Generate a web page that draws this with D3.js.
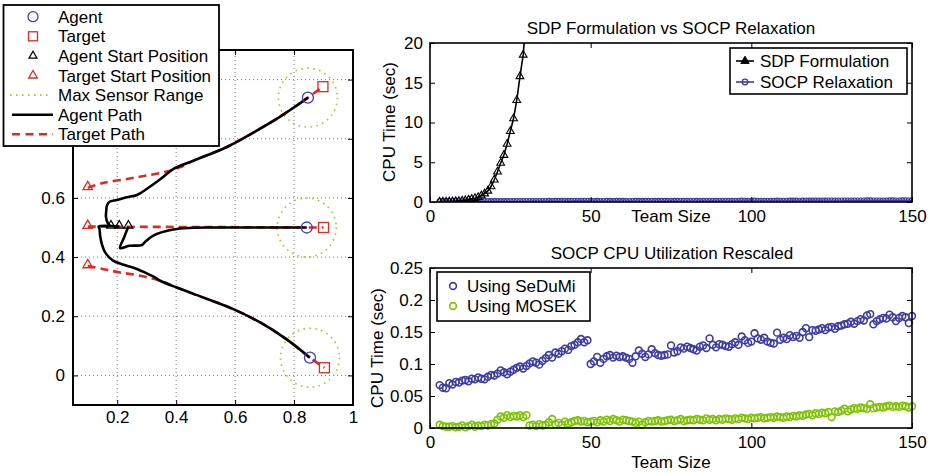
<!DOCTYPE html>
<html><head><meta charset="utf-8">
<script src="https://cdn.jsdelivr.net/npm/d3@7"></script>
<style>
body{margin:0;background:#fff;}
svg text{font-family:"Liberation Sans",Arial,Helvetica,sans-serif;fill:#000;}
</style></head><body>
<svg id="fig" width="931" height="473"></svg>
<script>
// ---------------- data ----------------
// Left panel: agent / target trajectories in the unit square
const agentPaths = [
  [[0.179,0.503],[0.168,0.515],[0.162,0.535],[0.163,0.558],[0.165,0.574],[0.174,0.587],[0.199,0.593],[0.233,0.602],[0.267,0.610],[0.301,0.631],[0.347,0.664],[0.391,0.698],[0.459,0.726],[0.572,0.772],[0.685,0.834],[0.753,0.875],[0.803,0.908],[0.847,0.939]],
  [[0.238,0.503],[0.224,0.468],[0.210,0.430],[0.240,0.438],[0.284,0.441],[0.295,0.452],[0.315,0.468],[0.334,0.478],[0.370,0.489],[0.402,0.495],[0.460,0.499],[0.515,0.500],[0.843,0.500]],
  [[0.207,0.503],[0.137,0.503],[0.140,0.495],[0.142,0.472],[0.148,0.444],[0.159,0.416],[0.187,0.387],[0.216,0.376],[0.267,0.360],[0.300,0.345],[0.330,0.330],[0.346,0.320],[0.402,0.297],[0.493,0.263],[0.594,0.224],[0.685,0.179],[0.775,0.122],[0.854,0.060]]
];
const targetPaths = [
  [[0.100,0.634],[0.154,0.651],[0.233,0.664],[0.301,0.676],[0.368,0.689],[0.414,0.704],[0.459,0.726],[0.572,0.772],[0.685,0.834],[0.753,0.875],[0.803,0.908],[0.847,0.939],[0.898,0.976]],
  [[0.100,0.503],[0.900,0.500]],
  [[0.100,0.370],[0.154,0.359],[0.210,0.348],[0.278,0.337],[0.346,0.320],[0.402,0.297],[0.493,0.263],[0.594,0.224],[0.685,0.179],[0.775,0.122],[0.854,0.060],[0.903,0.026]]
];
const agentEnd = [[0.847,0.939],[0.843,0.500],[0.854,0.060]];
const targetEnd = [[0.898,0.976],[0.900,0.500],[0.903,0.026]];
const agentStart = [[0.179,0.503],[0.207,0.503],[0.238,0.503]];
const targetStart = [[0.100,0.634],[0.100,0.503],[0.100,0.370]];
const sensorRange = 0.1;
const leftXTicks = [0.2,0.4,0.6,0.8,1];
const leftYTicks = [0,0.2,0.4,0.6,0.8,1];
// the legend box sits over the upper tick labels, so those stay blank
const leftYLabels = ["0","0.2","0.4","0.6","",""];
const leftLegend = ["Agent","Target","Agent Start Position","Target Start Position","Max Sensor Range","Agent Path","Target Path"];

// Right panels: CPU time vs team size
const sdpSizes = d3.range(3, 31);
const sdpTimes = [0.01,0.02,0.03,0.04,0.06,0.08,0.11,0.15,0.2,0.27,0.36,0.47,0.6,0.8,1.05,1.4,1.95,2.8,3.8,4.9,5.9,7.3,8.9,10.5,12.8,15.8,18.5,23.5];
const teamSizes = d3.range(3, 151);
const sedumiTimes = [
  0.067,0.063,0.062,0.070,0.068,0.072,0.071,0.074,0.075,0.073,0.077,0.076,0.079,0.077,0.076,0.080,0.083,0.082,0.085,0.090, // 3-22
  0.087,0.084,0.088,0.091,0.094,0.096,0.093,0.097,0.101,0.104,0.102,0.099,0.105,0.109,0.114,0.110,0.118,0.116,0.120,0.124, // 23-42
  0.122,0.128,0.130,0.134,0.139,0.134,0.137,0.100,0.104,0.111,0.102,0.108,0.112,0.114,0.110,0.113,0.111,0.112,0.110,0.108, // 43-62
  0.102,0.112,0.121,0.116,0.111,0.115,0.123,0.117,0.114,0.113,0.114,0.115,0.129,0.118,0.120,0.126,0.124,0.127,0.125,0.123, // 63-82
  0.121,0.127,0.129,0.125,0.140,0.130,0.126,0.131,0.130,0.128,0.127,0.131,0.134,0.130,0.143,0.137,0.133,0.135,0.148,0.140, // 83-102
  0.138,0.141,0.135,0.133,0.132,0.149,0.138,0.141,0.139,0.145,0.142,0.144,0.141,0.150,0.156,0.142,0.153,0.152,0.154,0.156, // 103-122
  0.153,0.157,0.158,0.155,0.159,0.160,0.162,0.163,0.166,0.163,0.167,0.170,0.168,0.176,0.178,0.162,0.167,0.170,0.172,0.171, // 123-142
  0.177,0.173,0.167,0.172,0.175,0.173,0.164,0.175 // 143-150
];
const mosekTimes = [
  0.005,0.003,0.002,0.002,0.003,0.001,0.002,0.004,0.001,0.003,0.005,0.002,0.004,0.003,0.005,0.004,0.006,0.007,0.013,0.018, // 3-22
  0.016,0.020,0.017,0.019,0.018,0.020,0.017,0.020,0.004,0.005,0.003,0.006,0.004,0.005,0.009,0.014,0.006,0.008,0.005,0.010, // 23-42
  0.007,0.009,0.011,0.012,0.010,0.011,0.009,0.010,0.011,0.009,0.012,0.010,0.013,0.011,0.014,0.012,0.010,0.013,0.012,0.011, // 43-62
  0.010,0.008,0.010,0.005,0.009,0.011,0.010,0.011,0.012,0.010,0.011,0.012,0.013,0.011,0.012,0.014,0.011,0.012,0.013,0.012, // 63-82
  0.014,0.013,0.012,0.015,0.013,0.014,0.012,0.014,0.013,0.015,0.014,0.013,0.015,0.014,0.016,0.015,0.014,0.016,0.015,0.016, // 83-102
  0.017,0.015,0.016,0.017,0.016,0.018,0.017,0.016,0.018,0.017,0.019,0.018,0.020,0.019,0.021,0.022,0.020,0.023,0.022,0.024, // 103-122
  0.023,0.025,0.017,0.026,0.025,0.027,0.030,0.026,0.029,0.031,0.030,0.032,0.031,0.030,0.037,0.031,0.032,0.033,0.032,0.034, // 123-142
  0.035,0.033,0.034,0.033,0.035,0.034,0.032,0.034 // 143-150
];
const sizeTicks = [0,50,100,150];
const sdpYTicks = [0,5,10,15,20];
const socpYTicks = [0,0.05,0.1,0.15,0.2,0.25];

// ---------------- styles ----------------
const C = {
  red: "#e5281e", blue: "#3f3fb8", green: "#9acd32",
  dataBlue: "#3c3ca6", dataGreen: "#7cc400", grid: "#666"
};
const FS = 17;
const svg = d3.select("#fig");

// Box + inward ticks on all four sides
function frame(g, x, y, xt, yt, opt) {
  const [x0, x1] = x.range(), [y0, y1] = y.range();
  const fmt = d => String(d);
  g.append("g").attr("transform", `translate(0,${y0})`)
    .call(d3.axisBottom(x).tickValues(xt).tickFormat(opt.xfmt || fmt).tickSizeInner(-5).tickSizeOuter(0).tickPadding(opt.xpad))
    .call(a => { a.select(".domain").remove(); a.selectAll("text").style("font-size", FS + "px"); });
  g.append("g").attr("transform", `translate(0,${y1})`)
    .call(d3.axisTop(x).tickValues(xt).tickFormat("").tickSizeInner(-5).tickSizeOuter(0))
    .call(a => a.select(".domain").remove());
  g.append("g").attr("transform", `translate(${x0},0)`)
    .call(d3.axisLeft(y).tickValues(yt).tickFormat(opt.yfmt || fmt).tickSizeInner(-5).tickSizeOuter(0).tickPadding(opt.ypad))
    .call(a => { a.select(".domain").remove(); a.selectAll("text").style("font-size", FS + "px"); });
  g.append("g").attr("transform", `translate(${x1},0)`)
    .call(d3.axisRight(y).tickValues(yt).tickFormat("").tickSizeInner(-5).tickSizeOuter(0))
    .call(a => a.select(".domain").remove());
  g.selectAll(".tick line").attr("stroke", "#000").attr("stroke-width", 1);
  g.append("rect").attr("x", x0).attr("y", y1).attr("width", x1 - x0).attr("height", y0 - y1)
    .attr("fill", "none").attr("stroke", "#000").attr("stroke-width", opt.box || 1.6);
}

// ================= Left panel: trajectories =================
const lx = d3.scaleLinear().domain([0.05, 1]).range([73, 353]);
const ly = d3.scaleLinear().domain([-0.1, 1.1]).range([405, 50]);
const gL = svg.append("g");

// dotted grid
gL.append("g").selectAll("line.v").data(leftXTicks.filter(d => d < 1)).join("line")
  .attr("x1", d => lx(d)).attr("x2", d => lx(d)).attr("y1", ly.range()[0]).attr("y2", ly.range()[1])
  .attr("stroke", C.grid).attr("stroke-width", 0.9).attr("stroke-dasharray", "1,3");
gL.append("g").selectAll("line.h").data(leftYTicks).join("line")
  .attr("y1", d => ly(d)).attr("y2", d => ly(d)).attr("x1", lx.range()[0]).attr("x2", lx.range()[1])
  .attr("stroke", C.grid).attr("stroke-width", 0.9).attr("stroke-dasharray", "1,3");

const rPix = lx(sensorRange) - lx(0);
gL.append("g").selectAll("circle").data(agentEnd).join("circle")
  .attr("cx", d => lx(d[0])).attr("cy", d => ly(d[1])).attr("r", rPix)
  .attr("fill", "none").attr("stroke", C.green).attr("stroke-width", 1.6).attr("stroke-dasharray", "1.6,4.4");

const pathGen = d3.line().x(d => lx(d[0])).y(d => ly(d[1])).curve(d3.curveCatmullRom.alpha(0.5));
gL.append("g").selectAll("path").data(targetPaths).join("path")
  .attr("d", pathGen).attr("fill", "none").attr("stroke", C.red).attr("stroke-width", 2.6)
  .attr("stroke-dasharray", "8,5");
gL.append("g").selectAll("path").data(agentPaths).join("path")
  .attr("d", pathGen).attr("fill", "none").attr("stroke", "#000").attr("stroke-width", 2.6)
  .attr("stroke-linejoin", "round");

const tri = d3.symbol(d3.symbolTriangle);
gL.append("g").selectAll("path").data(agentStart).join("path")
  .attr("transform", d => `translate(${lx(d[0])},${ly(d[1]) - 1})`).attr("d", tri.size(34)())
  .attr("fill", "none").attr("stroke", "#000").attr("stroke-width", 1.2);
gL.append("g").selectAll("path").data(targetStart).join("path")
  .attr("transform", d => `translate(${lx(d[0])},${ly(d[1]) - 1})`).attr("d", tri.size(40)())
  .attr("fill", "none").attr("stroke", C.red).attr("stroke-width", 1.3);
gL.append("g").selectAll("circle").data(agentEnd).join("circle")
  .attr("cx", d => lx(d[0])).attr("cy", d => ly(d[1])).attr("r", 5.5)
  .attr("fill", "none").attr("stroke", C.blue).attr("stroke-width", 1.3);
gL.append("g").selectAll("rect").data(targetEnd).join("rect")
  .attr("x", d => lx(d[0]) - 5).attr("y", d => ly(d[1]) - 5).attr("width", 10).attr("height", 10)
  .attr("fill", "none").attr("stroke", C.red).attr("stroke-width", 1.3);

frame(gL, lx, ly, leftXTicks, leftYTicks, {
  xpad: 6, ypad: 8, box: 2,
  yfmt: d => leftYLabels[leftYTicks.indexOf(d)]
});

// legend
const lg = svg.append("g");
lg.append("rect").attr("x", 3.5).attr("y", 5).attr("width", 215.5).attr("height", 141)
  .attr("fill", "#fff").attr("stroke", "#000").attr("stroke-width", 1.8);
const legY = i => 22.7 + i * 19.6;
lg.selectAll("text").data(leftLegend).join("text")
  .attr("x", 58).attr("y", (d, i) => legY(i)).style("font-size", FS + "px").text(d => d);
const mid = i => legY(i) - 6;
lg.append("circle").attr("cx", 33).attr("cy", mid(0)).attr("r", 5)
  .attr("fill", "none").attr("stroke", C.blue).attr("stroke-width", 1.3);
lg.append("rect").attr("x", 28.5).attr("y", mid(1) - 4.5).attr("width", 9).attr("height", 9)
  .attr("fill", "none").attr("stroke", C.red).attr("stroke-width", 1.3);
lg.append("path").attr("transform", `translate(33,${mid(2)})`).attr("d", tri.size(28)())
  .attr("fill", "none").attr("stroke", "#000").attr("stroke-width", 1.2);
lg.append("path").attr("transform", `translate(33,${mid(3)})`).attr("d", tri.size(32)())
  .attr("fill", "none").attr("stroke", C.red).attr("stroke-width", 1.3);
lg.append("line").attr("x1", 10).attr("x2", 52).attr("y1", mid(4)).attr("y2", mid(4))
  .attr("stroke", C.green).attr("stroke-width", 1.6).attr("stroke-dasharray", "1.6,4.4");
lg.append("line").attr("x1", 12).attr("x2", 53).attr("y1", mid(5)).attr("y2", mid(5))
  .attr("stroke", "#000").attr("stroke-width", 2.6);
lg.append("line").attr("x1", 12).attr("x2", 53).attr("y1", mid(6)).attr("y2", mid(6))
  .attr("stroke", C.red).attr("stroke-width", 2.6).attr("stroke-dasharray", "8,5.5");

// ================= Top right: SDP vs SOCP =================
const tx = d3.scaleLinear().domain([0, 150]).range([430, 912]);
const ty = d3.scaleLinear().domain([0, 20]).range([202, 43]);
const gT = svg.append("g");
gT.append("clipPath").attr("id", "clipT").append("rect")
  .attr("x", 430).attr("y", 43).attr("width", 482).attr("height", 159);
const plotT = gT.append("g").attr("clip-path", "url(#clipT)");
const sdp = sdpSizes.map((s, i) => [s, sdpTimes[i]]);
const socp = teamSizes.map((s, i) => [s, sedumiTimes[i]]);
const lineT = d3.line().x(d => tx(d[0])).y(d => ty(d[1]));
plotT.append("path").attr("d", lineT(socp)).attr("fill", "none").attr("stroke", C.dataBlue).attr("stroke-width", 1.2);
plotT.append("g").selectAll("circle").data(socp).join("circle")
  .attr("cx", d => tx(d[0])).attr("cy", d => ty(d[1])).attr("r", 2.7)
  .attr("fill", "none").attr("stroke", C.dataBlue).attr("stroke-width", 1.1);
plotT.append("path").attr("d", lineT(sdp)).attr("fill", "none").attr("stroke", "#000").attr("stroke-width", 1.6);
plotT.append("g").selectAll("path").data(sdp.filter(d => d[1] <= 20)).join("path")
  .attr("transform", d => `translate(${tx(d[0])},${ty(d[1])})`).attr("d", tri.size(26)())
  .attr("fill", "none").attr("stroke", "#000").attr("stroke-width", 1.1);
frame(gT, tx, ty, sizeTicks, sdpYTicks, { xpad: 8, ypad: 7, box: 1.6 });
gT.append("text").attr("x", 671).attr("y", 34).attr("text-anchor", "middle").style("font-size", FS + "px")
  .text("SDP Formulation vs SOCP Relaxation");
gT.append("text").attr("x", 671).attr("y", 222).attr("text-anchor", "middle").style("font-size", FS + "px")
  .text("Team Size");
gT.append("text").attr("transform", "translate(395,122) rotate(-90)").attr("text-anchor", "middle")
  .style("font-size", FS + "px").text("CPU Time (sec)");
// legend
const lgT = gT.append("g");
lgT.append("rect").attr("x", 730).attr("y", 48).attr("width", 177).attr("height", 46)
  .attr("fill", "#fff").attr("stroke", "#000").attr("stroke-width", 1.6);
lgT.append("line").attr("x1", 736).attr("x2", 754).attr("y1", 61).attr("y2", 61).attr("stroke", "#000").attr("stroke-width", 1.6);
lgT.append("path").attr("transform", "translate(745,61)").attr("d", tri.size(30)()).attr("fill", "#000").attr("stroke", "#000");
lgT.append("line").attr("x1", 736).attr("x2", 754).attr("y1", 82).attr("y2", 82).attr("stroke", C.dataBlue).attr("stroke-width", 1.6);
lgT.append("circle").attr("cx", 745).attr("cy", 82).attr("r", 2.8).attr("fill", "none").attr("stroke", C.dataBlue).attr("stroke-width", 1.3);
lgT.append("text").attr("x", 760).attr("y", 66.5).style("font-size", FS + "px").text("SDP Formulation");
lgT.append("text").attr("x", 760).attr("y", 87.5).style("font-size", FS + "px").text("SOCP Relaxation");

// ================= Bottom right: SOCP solvers =================
const bx = d3.scaleLinear().domain([0, 150]).range([430, 912]);
const by = d3.scaleLinear().domain([0, 0.25]).range([428, 268]);
const gB = svg.append("g");
const sedumi = teamSizes.map((s, i) => [s, sedumiTimes[i]]);
const mosek = teamSizes.map((s, i) => [s, mosekTimes[i]]);
gB.append("g").selectAll("circle").data(sedumi).join("circle")
  .attr("cx", d => bx(d[0])).attr("cy", d => by(d[1])).attr("r", 3.4)
  .attr("fill", "none").attr("stroke", C.dataBlue).attr("stroke-width", 1.6);
gB.append("g").selectAll("circle").data(mosek).join("circle")
  .attr("cx", d => bx(d[0])).attr("cy", d => by(d[1])).attr("r", 3.4)
  .attr("fill", "none").attr("stroke", C.dataGreen).attr("stroke-width", 1.6);
frame(gB, bx, by, sizeTicks, socpYTicks, { xpad: 8, ypad: 7, box: 1.6 });
gB.append("text").attr("x", 672).attr("y", 259).attr("text-anchor", "middle").style("font-size", FS + "px")
  .text("SOCP CPU Utilization Rescaled");
gB.append("text").attr("x", 671).attr("y", 468).attr("text-anchor", "middle").style("font-size", FS + "px")
  .text("Team Size");
gB.append("text").attr("transform", "translate(383,348) rotate(-90)").attr("text-anchor", "middle")
  .style("font-size", FS + "px").text("CPU Time (sec)");
const lgB = gB.append("g");
lgB.append("rect").attr("x", 437).attr("y", 272).attr("width", 153).attr("height", 49)
  .attr("fill", "#fff").attr("stroke", "#000").attr("stroke-width", 1.6);
lgB.append("circle").attr("cx", 453).attr("cy", 286).attr("r", 3.4).attr("fill", "none").attr("stroke", C.dataBlue).attr("stroke-width", 1.6);
lgB.append("circle").attr("cx", 453).attr("cy", 306).attr("r", 3.4).attr("fill", "none").attr("stroke", C.dataGreen).attr("stroke-width", 1.6);
lgB.append("text").attr("x", 467).attr("y", 292).style("font-size", FS + "px").text("Using SeDuMi");
lgB.append("text").attr("x", 467).attr("y", 312).style("font-size", FS + "px").text("Using MOSEK");
</script>
</body></html>
